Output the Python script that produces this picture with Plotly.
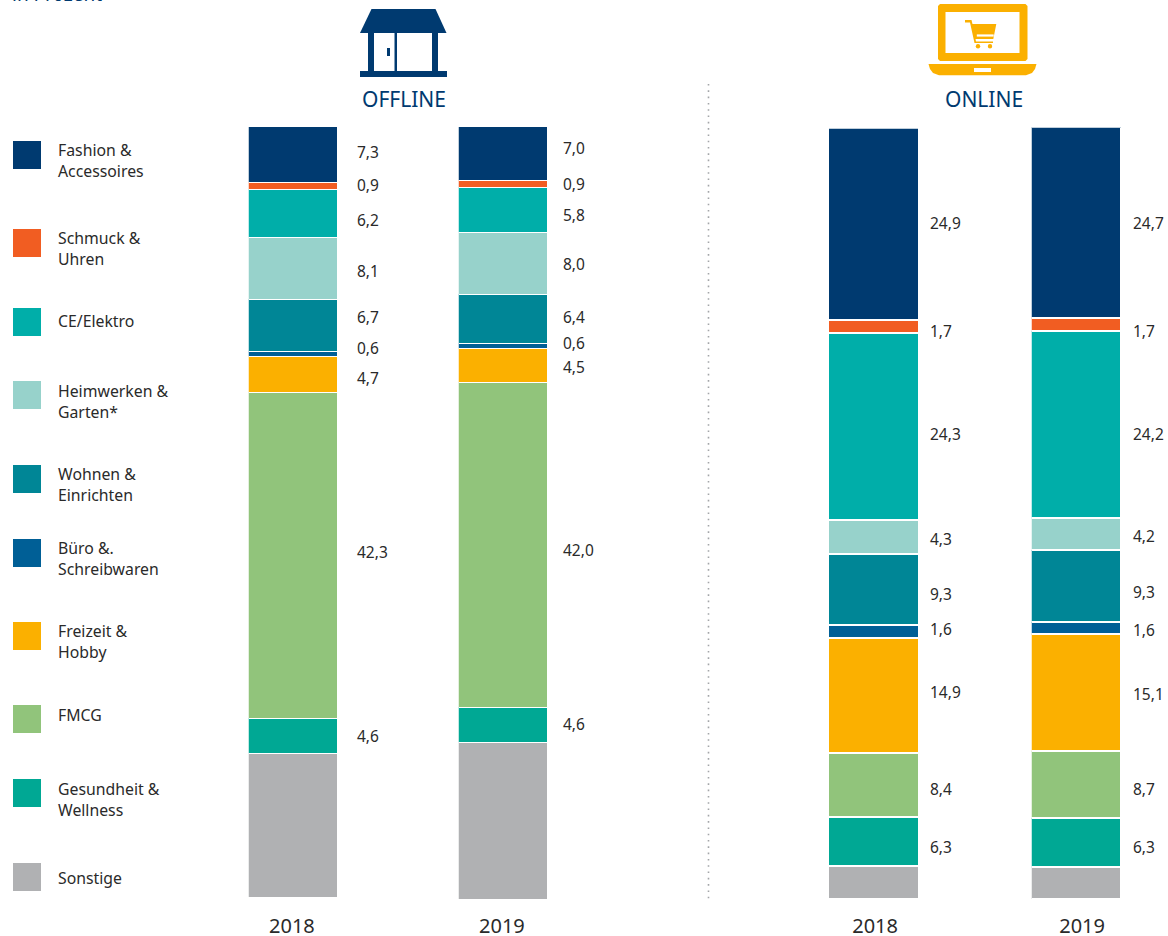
import plotly.graph_objects as go

# ---------- data ----------
categories = ["Fashion & Accessoires", "Schmuck & Uhren", "CE/Elektro", "Heimwerken & Garten*",
              "Wohnen & Einrichten", "Büro &. Schreibwaren", "Freizeit & Hobby", "FMCG",
              "Gesundheit & Wellness", "Sonstige"]
legend_labels = ["Fashion &<br>Accessoires", "Schmuck &<br>Uhren", "CE/Elektro", "Heimwerken &<br>Garten*",
                 "Wohnen &<br>Einrichten", "Büro &.<br>Schreibwaren", "Freizeit &<br>Hobby", "FMCG",
                 "Gesundheit &<br>Wellness", "Sonstige"]
years = ["2018", "2019", "2018", "2019"]
offline_2018 = [7.3, 0.9, 6.2, 8.1, 6.7, 0.6, 4.7, 42.3, 4.6, 18.6]
offline_2019 = [7.0, 0.9, 5.8, 8.0, 6.4, 0.6, 4.5, 42.0, 4.6, 20.2]
online_2018 = [24.9, 1.7, 24.3, 4.3, 9.3, 1.6, 14.9, 8.4, 6.3, 4.3]
online_2019 = [24.7, 1.7, 24.2, 4.2, 9.3, 1.6, 15.1, 8.7, 6.3, 4.2]
series = [offline_2018, offline_2019, online_2018, online_2019]

# ---------- styles / layout (pixels of the 1168x936 page) ----------
W, H = 1168, 936
colors = ["#003a70", "#f15d22", "#00aea9", "#97d2cb", "#008696", "#005f96", "#fbb000", "#91c47b", "#00a894", "#b0b1b3"]
NAVY, AMBER, TXT = "#003a70", "#fbb000", "#2a2a2a"
FONT = "Noto Sans"
bar_left = [248.5, 458.5, 829, 1031.5]
bar_right = [338, 548, 918.5, 1121]
bar_top = [127, 127, 128.5, 127.5]
bar_bottom = [897.5, 899.5, 899.5, 899.5]
year_shift = [-0.015, -0.015, 0.015, 0.065]
label_x = [355.5, 561.5, 928.5, 1131.5]
label_y = [
    [152, 185, 220, 271, 317, 348, 378, 552, 736],
    [148, 184, 215, 264, 317, 343, 367, 550, 724],
    [223, 331, 434, 539, 594, 629, 692, 789, 847],
    [223, 331, 434, 536, 592, 630, 694, 789, 847],
]
swatch_top = [141, 229, 308, 381, 465, 539, 622, 705, 779, 863]
legend_y = [160.5, 248.5, 321, 401.5, 484.5, 558.5, 641.5, 715, 799, 878]


def px(x):
    return x / W


def py(y):
    return 1 - y / H


def path(points, close=True):
    s = "M" + " L".join(f"{px(x):.5f},{py(y):.5f}" for x, y in points)
    return s + (" Z" if close else "")


def rect(x0, y0, x1, y1, color, **kw):
    return dict(type="rect", xref="paper", yref="paper", x0=px(x0), x1=px(x1), y0=py(y0), y1=py(y1),
                fillcolor=color, line=dict(width=0), **kw)


def poly(points, color):
    return dict(type="path", xref="paper", yref="paper", path=path(points), fillcolor=color, line=dict(width=0))


def circle(cx, cy, r, color):
    return dict(type="circle", xref="paper", yref="paper", x0=px(cx - r), x1=px(cx + r),
                y0=py(cy - r), y1=py(cy + r), fillcolor=color, line=dict(width=0))


def text(x, y, s, size, color=TXT, xanchor="left"):
    return dict(xref="paper", yref="paper", x=px(x), y=py(y), text=s, showarrow=False, xanchor=xanchor,
                yanchor="middle", align="left", font=dict(family=FONT, size=size, color=color),
                borderpad=0, xshift=0)


fig = go.Figure()
layout = {}
annotations = []
shapes = []

for i, vals in enumerate(series):
    suffix = "" if i == 0 else str(i + 1)
    for name, v, c in zip(categories, vals, colors):
        fig.add_trace(go.Bar(x=[0], y=[v], width=[1], name=name, showlegend=False,
                             marker=dict(color=c, line=dict(color="white", width=1.3)),
                             xaxis="x" + suffix, yaxis="y" + suffix))
    layout["xaxis" + suffix] = dict(
        domain=[px(bar_left[i]), px(bar_right[i])], range=[-0.5, 0.5], anchor="y" + suffix,
        tickmode="array", tickvals=[year_shift[i]], ticktext=[years[i]], showgrid=False, zeroline=False,
        automargin=False, ticks="outside", ticklen=int(907.5 - bar_bottom[i]), tickcolor="rgba(0,0,0,0)",
        tickfont=dict(family=FONT, size=20, color=TXT))
    layout["yaxis" + suffix] = dict(
        domain=[py(bar_bottom[i]), py(bar_top[i])], range=[sum(vals), 0], anchor="x" + suffix,
        visible=False, automargin=False)
    for v, y in zip(vals[:-1], label_y[i]):
        annotations.append(text(label_x[i], y, f"{v:.1f}".replace(".", ","), 15.5))

# legend
for top, c, lab, y in zip(swatch_top, colors, legend_labels, legend_y):
    shapes.append(rect(13, top, 41, top + 28, c))
    annotations.append(text(56.5, y, lab, 15.8))

# headers
annotations.append(text(404, 99, "OFFLINE", 21, NAVY, "center"))
annotations.append(text(984, 99, "ONLINE", 21, NAVY, "center"))
annotations.append(text(11, -6, "in Prozent", 19, NAVY))

# divider
shapes.append(dict(type="line", xref="paper", yref="paper", x0=px(708.5), x1=px(708.5), y0=py(84), y1=py(903),
                   line=dict(color="#a3a5a8", width=1.6, dash="1.6px,4.7px")))

# store icon
shapes += [
    poly([(371.5, 9), (435.5, 9), (446.5, 33), (360, 33)], NAVY),
    rect(368, 33, 374, 72, NAVY), rect(394.5, 33, 397, 72, NAVY), rect(432, 33, 438, 72, NAVY),
    rect(387, 48, 390, 56, NAVY), rect(360, 71, 447, 77, NAVY),
]
# laptop icon
shapes += [
    poly([(940, 4), (1025.5, 4), (1027.5, 6), (1027.5, 59), (1025.5, 61), (940, 61), (938, 59), (938, 6)], AMBER),
    rect(945.5, 12, 1019.5, 53, "white"),
    poly([(928.5, 64), (1036.5, 64), (1035, 69), (1032, 73), (1026, 75.3), (939, 75.3), (933, 73), (930, 69)], AMBER),
    rect(974, 68, 991, 72, "white"),
    # shopping cart
    poly([(965, 20), (971.5, 20), (972.5, 24), (996.3, 24), (993.3, 39), (975.5, 39), (976, 41.5), (993, 41.5),
          (993, 43), (974.5, 43), (970, 22.5), (965, 22.5)], AMBER),
    rect(976.8, 34.4, 993.7, 36.6, "white"),
    circle(978, 46.3, 2.2, AMBER), circle(990, 46.3, 2.2, AMBER),
]

fig.update_layout(width=W, height=H, margin=dict(l=0, r=0, t=0, b=0), barmode="stack", bargap=0,
                  paper_bgcolor="white", plot_bgcolor="white", showlegend=False,
                  annotations=annotations, shapes=shapes, **layout)
fig.write_html("out.html", post_script="document.body.style.margin='0';",
               config=dict(displayModeBar=False))
